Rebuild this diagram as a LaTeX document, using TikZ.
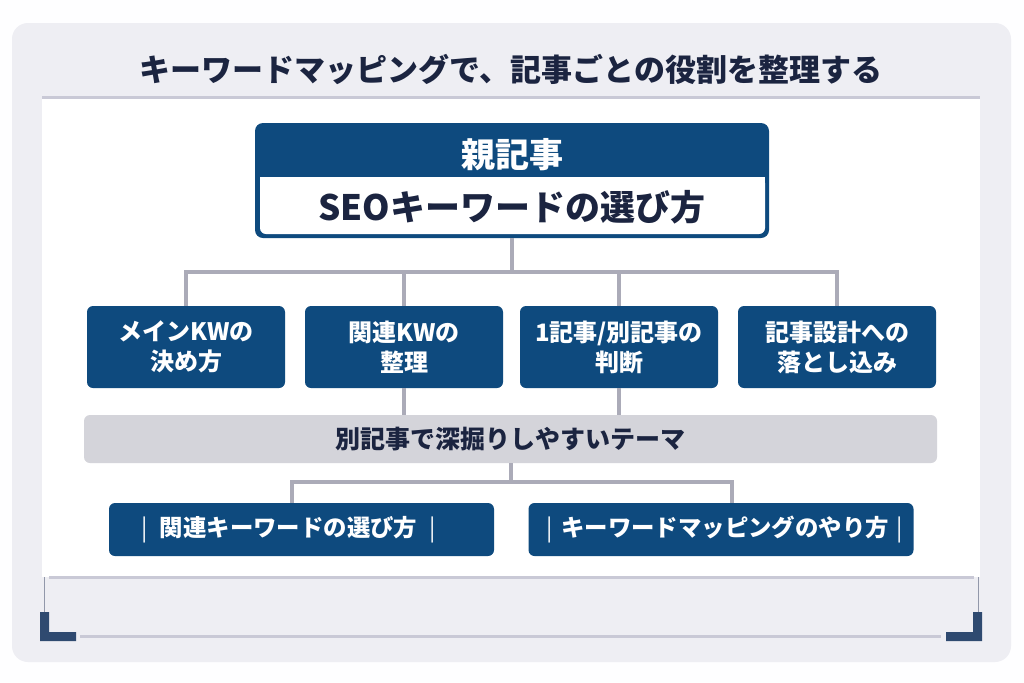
\documentclass[tikz,border=0pt]{standalone}
\usepackage{fontspec}
\setmainfont{Noto Sans CJK JP}
\definecolor{kwnavy}{HTML}{0E4A7E}
\definecolor{kwink}{HTML}{1B2440}
\definecolor{kwpanel}{HTML}{EEEEF3}
\definecolor{kwconn}{HTML}{ABABB8}
\definecolor{kwband}{HTML}{D4D4DA}
\definecolor{kwrule}{HTML}{C9C9D6}
\definecolor{kwslate}{HTML}{2F4A70}
\usetikzlibrary{calc}

\begin{document}
\begin{tikzpicture}[x=.5pt,y=-.5pt,
    conn/.style={kwconn,line width=2pt},
    topbox/.style={fill=kwnavy,text=white,rounded corners=3pt,inner sep=0,
      minimum width=99pt,minimum height=41pt,align=center,
      font=\bfseries\fontsize{12}{15}\selectfont},
    lowbox/.style={fill=kwnavy,text=white,rounded corners=3pt,inner sep=0,
      minimum width=192.5pt,minimum height=26.5pt,
      font=\bfseries\fontsize{11.7}{14}\selectfont}]
      \path[use as bounding box,fill=white!97!kwpanel] (0,0) rectangle (1024,682);
      \fill[kwpanel,rounded corners=8pt] (12,23) rectangle (1011,662);
      \fill[white] (42,98) rectangle (980,577);
      \draw[kwrule,line width=1.5pt] (42,97) -- (980,97);
      \draw[kwrule,line width=1.5pt] (49,577) -- (974,577);
      \node[text=kwink,font=\bfseries\fontsize{15.5}{18}\selectfont]
        (title) at (511,69) {キーワードマッピングで、記事ごとの役割を整理する};

      \node[fill=kwnavy,rounded corners=4pt,inner sep=0,
        minimum width=257pt,minimum height=57.5pt] (oya) at (512,180.5) {};
      \fill[white,rounded corners=3pt] (260,177) rectangle (765,234);
      \fill[white] (260,177) rectangle (765,200);
      \node[text=white,font=\bfseries\fontsize{17}{20}\selectfont]
        (oyahead) at (512,155) {親記事};
      \node[text=kwink,font=\bfseries\fontsize{17.5}{20}\selectfont]
        (oyatitle) at (512,207) {SEOキーワードの選び方};

      \foreach \name/\x/\txt in {m1/186/{メインKWの\\決め方},m2/404/{関連KWの\\整理},
          m3/619/{1記事/別記事の\\判断},m4/837/{記事設計への\\落とし込み}}{
        \node[topbox] (\name) at (\x,347) {\txt};
      }
      \draw[conn] (oya.south) -- ++(0,34);
      \draw[conn] (m1.north) -- ++(0,-34) -| (m4.north);
      \draw[conn] (m2.north) -- ++(0,-34);
      \draw[conn] (m3.north) -- ++(0,-34);

      \node[fill=kwband,text=kwink,rounded corners=3pt,inner sep=0,
        minimum width=426.5pt,minimum height=24pt,
        font=\bfseries\fontsize{12.5}{15}\selectfont]
        (band) at (510.5,439) {別記事で深掘りしやすいテーマ};
      \draw[conn] (m2.south) -- (m2.south |- band.north);
      \draw[conn] (m3.south) -- (m3.south |- band.north);

      \node[lowbox] (low1) at (301.5,529.5)
        {{\mdseries|}\hspace{6pt}関連キーワードの選び方\hspace{6pt}{\mdseries|}\hspace*{13pt}};
      \node[lowbox] (low2) at (721,529.5)
        {\hspace*{4pt}{\mdseries|}\hspace{4pt}キーワードマッピングのやり方\hspace{4pt}{\mdseries|}};
      \draw[conn] (band.south) -- ++(0,19) coordinate (lowbus);
      \draw[conn] (lowbus) -| ([xshift=-4.75pt]low1.north);
      \draw[conn] (lowbus) -| ([xshift=5.5pt]low2.north);

      \draw[kwconn!80!kwslate,line width=.5pt] (44,577) -- (44,612);
      \draw[kwconn!80!kwslate,line width=.5pt] (978,577) -- (978,612);
      \fill[kwslate] (40,612) -- (49,612) -- (49,632) -- (76,632)
        -- (76,641) -- (40,641) -- cycle;
      \fill[kwslate] (973,612) -- (982,612) -- (982,641) -- (946,641)
        -- (946,632) -- (973,632) -- cycle;
      \draw[kwrule,line width=1.5pt] (80,636) -- (941,636);
    \end{tikzpicture}
\end{document}
